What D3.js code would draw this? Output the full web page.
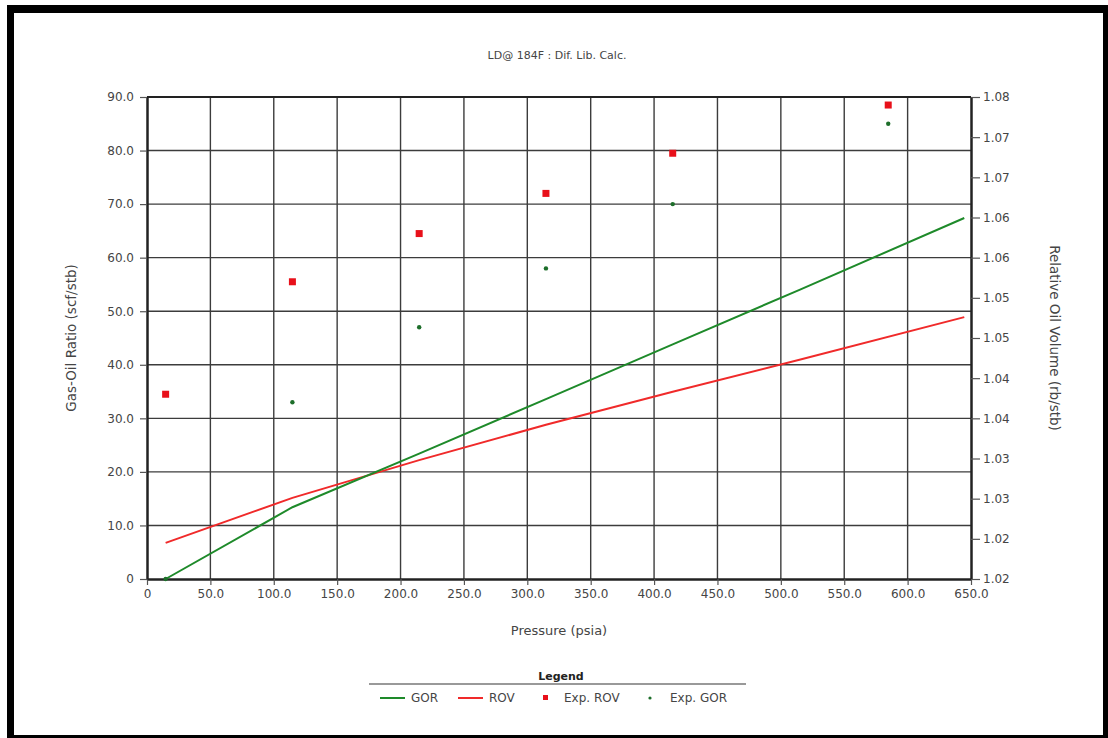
<!DOCTYPE html>
<html><head><meta charset="utf-8">
<script src="https://cdn.jsdelivr.net/npm/d3@7"></script>
<style>body{margin:0;background:#fff;} svg{display:block;font-family:"DejaVu Sans",Verdana,sans-serif;}</style>
</head><body>
<svg id="c" width="1108" height="738"></svg>
<script>
// ---- data ----
const linePressure = [14.7, 114.7, 214.7, 314.7, 414.7, 514.7, 644.7];
const gorLine = [0, 13.4, 23.4, 33.6, 43.8, 54.0, 67.4];
const rovLine = [1.0245, 1.0301, 1.0348, 1.0392, 1.0433, 1.0473, 1.0526];
const expPressure = [14.7, 114.7, 214.7, 314.7, 414.7, 584.7];
const expROV = [1.0430, 1.0570, 1.0630, 1.0680, 1.0730, 1.0790];
const expGOR = [0, 33.0, 47.0, 58.0, 70.0, 85.0];
const xTicks = [0, 50, 100, 150, 200, 250, 300, 350, 400, 450, 500, 550, 600, 650];
const xTickLabels = ["0","50.0","100.0","150.0","200.0","250.0","300.0","350.0","400.0","450.0","500.0","550.0","600.0","650.0"];
const yTicks = [0, 10, 20, 30, 40, 50, 60, 70, 80, 90];
const yTickLabels = ["0","10.0","20.0","30.0","40.0","50.0","60.0","70.0","80.0","90.0"];
const y2Ticks = [1.020,1.025,1.030,1.035,1.040,1.045,1.050,1.055,1.060,1.065,1.070,1.075,1.080];
const y2TickLabels = ["1.02","1.02","1.03","1.03","1.04","1.04","1.05","1.05","1.06","1.06","1.07","1.07","1.08"];
const legendItems = ["GOR","ROV","Exp. ROV","Exp. GOR"];

const svg = d3.select("#c");
// frame
svg.append("rect").attr("x",7).attr("y",5).attr("width",1101).attr("height",733).attr("fill","#000");
svg.append("rect").attr("x",14).attr("y",13).attr("width",1089).attr("height",722).attr("fill","#fff");

const L=147, R=971, T=97, B=579;
const x = d3.scaleLinear().domain([0,650]).range([L,R]);
const y = d3.scaleLinear().domain([0,90]).range([B,T]);
const y2 = d3.scaleLinear().domain([1.02,1.08]).range([B,T]);
const textCol = "#454545";
const green = "#1e8a2a", red = "#f02a2a";

// grid
const g = svg.append("g");
g.selectAll(".vg").data(xTicks.slice(1,-1)).enter().append("line")
 .attr("x1",d=>x(d)).attr("x2",d=>x(d)).attr("y1",T).attr("y2",B)
 .attr("stroke","#3c3c3c").attr("stroke-width",1.4);
g.selectAll(".hg").data(yTicks.slice(1,-1)).enter().append("line")
 .attr("y1",d=>y(d)).attr("y2",d=>y(d)).attr("x1",L).attr("x2",R)
 .attr("stroke","#3c3c3c").attr("stroke-width",1.4);

// axes
const fmtIdx = (arr, labels) => (d => labels[arr.indexOf(d)]);
const xAxis = d3.axisBottom(x).tickValues(xTicks).tickFormat(fmtIdx(xTicks,xTickLabels)).tickSize(6).tickPadding(4).tickSizeOuter(0);
const yAxis = d3.axisLeft(y).tickValues(yTicks).tickFormat(fmtIdx(yTicks,yTickLabels)).tickSize(7).tickPadding(6).tickSizeOuter(0);
const y2Axis = d3.axisRight(y2).tickValues(y2Ticks).tickFormat((d,i)=>y2TickLabels[i]).tickSize(9).tickPadding(3).tickSizeOuter(0);

function style(sel){
  sel.selectAll("path").attr("stroke","#222").attr("stroke-width",2.5);
  sel.selectAll(".tick line").attr("stroke","#555").attr("stroke-width",1.2);
  sel.selectAll("text").attr("fill",textCol).attr("font-size",12).attr("font-family","DejaVu Sans");
}
svg.append("g").attr("transform",`translate(0,${B})`).call(xAxis).call(style);
svg.append("g").attr("transform",`translate(${L},0)`).call(yAxis).call(style);
svg.append("g").attr("transform",`translate(${R},0)`).call(y2Axis).call(style);
// top border
svg.append("line").attr("x1",L).attr("x2",R).attr("y1",T).attr("y2",T).attr("stroke","#222").attr("stroke-width",2);

// titles
svg.append("text").attr("x",557).attr("y",59).attr("text-anchor","middle").attr("font-size",11).attr("fill",textCol).text("LD@ 184F : Dif. Lib. Calc.");
svg.append("text").attr("x",559).attr("y",635).attr("text-anchor","middle").attr("font-size",13).attr("fill",textCol).text("Pressure (psia)");
svg.append("text").attr("transform","translate(76,338) rotate(-90)").attr("text-anchor","middle").attr("font-size",13.5).attr("fill",textCol).text("Gas-Oil Ratio (scf/stb)");
svg.append("text").attr("transform","translate(1050,338) rotate(90)").attr("text-anchor","middle").attr("font-size",13.5).attr("fill",textCol).text("Relative Oil Volume (rb/stb)");

// lines
const gorData = linePressure.map((p,i)=>[p,gorLine[i]]);
const rovData = linePressure.map((p,i)=>[p,rovLine[i]]);
svg.append("path").datum(rovData).attr("fill","none").attr("stroke",red).attr("stroke-width",2)
  .attr("d",d3.line().x(d=>x(d[0])).y(d=>y2(d[1])));
svg.append("path").datum(gorData).attr("fill","none").attr("stroke",green).attr("stroke-width",2)
  .attr("d",d3.line().x(d=>x(d[0])).y(d=>y(d[1])));

// exp points
svg.selectAll(".er").data(expPressure.map((p,i)=>[p,expROV[i]])).enter().append("rect")
  .attr("x",d=>x(d[0])-3.5).attr("y",d=>y2(d[1])-3.5).attr("width",7).attr("height",7).attr("fill","#e8101a");
svg.selectAll(".eg").data(expPressure.map((p,i)=>[p,expGOR[i]])).enter().append("circle")
  .attr("cx",d=>x(d[0])).attr("cy",d=>y(d[1])).attr("r",2.2).attr("fill","#1d6e2a");

// legend
svg.append("text").attr("x",561).attr("y",680).attr("text-anchor","middle").attr("font-size",11).attr("font-weight","bold").attr("fill","#222").text("Legend");
svg.append("line").attr("x1",369).attr("x2",746).attr("y1",684).attr("y2",684).attr("stroke","#777").attr("stroke-width",1.5);
const ly = 698;
svg.append("line").attr("x1",380).attr("x2",405).attr("y1",ly).attr("y2",ly).attr("stroke",green).attr("stroke-width",2);
svg.append("text").attr("x",411).attr("y",ly+4).attr("font-size",12).attr("fill",textCol).text(legendItems[0]);
svg.append("line").attr("x1",458).attr("x2",483).attr("y1",ly).attr("y2",ly).attr("stroke",red).attr("stroke-width",2);
svg.append("text").attr("x",489).attr("y",ly+4).attr("font-size",12).attr("fill",textCol).text(legendItems[1]);
svg.append("rect").attr("x",543).attr("y",ly-3).attr("width",5).attr("height",5).attr("fill","#e8101a");
svg.append("text").attr("x",564).attr("y",ly+4).attr("font-size",12).attr("fill",textCol).text(legendItems[2]);
svg.append("circle").attr("cx",650).attr("cy",ly).attr("r",1.6).attr("fill","#1d6e2a");
svg.append("text").attr("x",670).attr("y",ly+4).attr("font-size",12).attr("fill",textCol).text(legendItems[3]);
</script>
</body></html>
